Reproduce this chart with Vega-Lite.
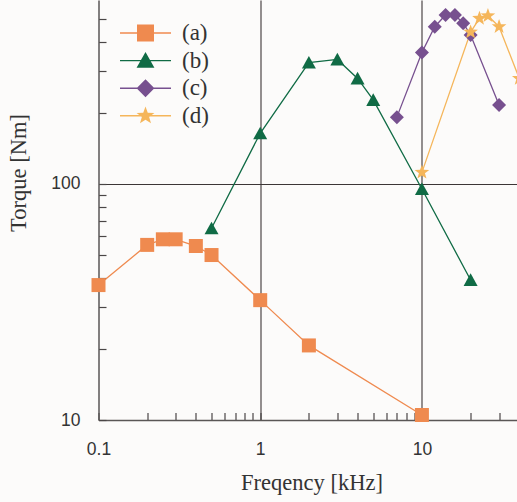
{
  "$schema": "https://vega.github.io/schema/vega-lite/v6.json",
  "width": 419,
  "height": 420,
  "autosize": {"type": "none"},
  "padding": {"left": 98.5, "top": 0, "right": 0, "bottom": 82},
  "background": "#fcfbfa",
  "view": {"stroke": null},
  "config": {
    "axis": {
      "labelFont": "Liberation Sans",
      "labelFontSize": 17.5,
      "labelColor": "#333333",
      "titleFont": "Liberation Serif",
      "titleFontSize": 22.5,
      "titleFontWeight": "normal",
      "titleColor": "#333333",
      "domainColor": "#5a5656",
      "domainWidth": 1.5,
      "tickColor": "#4a4646",
      "tickWidth": 1.2,
      "tickSize": -7.5,
      "gridColor": "#3c3636",
      "gridWidth": 1.1
    }
  },
  "data": {
    "values": [
      {"series": "(a)", "f": 0.1, "t": 37.3},
      {"series": "(a)", "f": 0.2, "t": 55.2},
      {"series": "(a)", "f": 0.25, "t": 58.3},
      {"series": "(a)", "f": 0.3, "t": 58.3},
      {"series": "(a)", "f": 0.4, "t": 54.6},
      {"series": "(a)", "f": 0.5, "t": 50.0},
      {"series": "(a)", "f": 1, "t": 32.2},
      {"series": "(a)", "f": 2, "t": 20.7},
      {"series": "(a)", "f": 10, "t": 10.5},
      {"series": "(b)", "f": 0.5, "t": 64.9},
      {"series": "(b)", "f": 1, "t": 164},
      {"series": "(b)", "f": 2, "t": 327},
      {"series": "(b)", "f": 3, "t": 337},
      {"series": "(b)", "f": 4, "t": 280},
      {"series": "(b)", "f": 5, "t": 227},
      {"series": "(b)", "f": 10, "t": 95.2},
      {"series": "(b)", "f": 20, "t": 39.2},
      {"series": "(c)", "f": 7, "t": 192},
      {"series": "(c)", "f": 10, "t": 361},
      {"series": "(c)", "f": 12, "t": 464},
      {"series": "(c)", "f": 14, "t": 520},
      {"series": "(c)", "f": 16, "t": 520},
      {"series": "(c)", "f": 18, "t": 480},
      {"series": "(c)", "f": 20, "t": 428},
      {"series": "(c)", "f": 30, "t": 216},
      {"series": "(d)", "f": 10, "t": 112},
      {"series": "(d)", "f": 20, "t": 440},
      {"series": "(d)", "f": 22.7, "t": 503},
      {"series": "(d)", "f": 25.6, "t": 516},
      {"series": "(d)", "f": 30, "t": 464},
      {"series": "(d)", "f": 40, "t": 280}
    ]
  },
  "encoding": {
    "x": {
      "field": "f",
      "type": "quantitative",
      "scale": {"type": "log", "domain": [0.1, 39], "nice": false},
      "axis": {
        "title": "Freqency [kHz]",
        "values": [0.1, 0.2, 0.3, 0.4, 0.5, 0.6, 0.7, 0.8, 0.9, 1, 2, 3, 4, 5, 6, 7, 8, 9, 10, 20, 30],
        "labelExpr": "datum.value == 0.1 ? '0.1' : datum.value == 1 ? '1' : datum.value == 10 ? '10' : ''",
        "labelPadding": 37,
        "labelBaseline": "middle",
        "labelFlush": false,
        "labelOverlap": false,
        "grid": true,
        "gridOpacity": {"condition": {"test": "datum.value == 1 || datum.value == 10", "value": 1}, "value": 0},
        "titleBaseline": "alphabetic",
        "titleX": 213,
        "titleY": 69
      }
    },
    "y": {
      "field": "t",
      "type": "quantitative",
      "scale": {"type": "log", "domain": [10, 602], "nice": false},
      "axis": {
        "title": "Torque [Nm]",
        "values": [10, 20, 30, 40, 50, 60, 70, 80, 90, 100, 200, 300, 400, 500],
        "labelExpr": "datum.value == 10 ? '10' : datum.value == 100 ? '100' : ''",
        "labelPadding": 26,
        "labelFlush": false,
        "labelOverlap": false,
        "grid": true,
        "gridOpacity": {"condition": {"test": "datum.value == 100", "value": 1}, "value": 0},
        "titleAngle": -90,
        "titleAlign": "center",
        "titleBaseline": "alphabetic",
        "titleX": -73,
        "titleY": 172.5
      }
    },
    "color": {
      "field": "series",
      "type": "nominal",
      "scale": {"domain": ["(a)", "(b)", "(c)", "(d)"], "range": ["#ef8a4f", "#106b45", "#77508f", "#f5b65b"]},
      "legend": {
        "title": null,
        "orient": "none",
        "legendX": 35.5,
        "legendY": 21.5,
        "padding": 0,
        "labelFont": "Liberation Serif",
        "labelFontSize": 23,
        "labelColor": "#333333",
        "labelOffset": 25,
        "rowPadding": 3.6,
        "symbolSize": 289,
        "symbolStrokeWidth": 0,
        "encoding": {
          "symbols": {
            "shape": {"value": {"expr": "datum.value === '(a)' ? 'M-3,-0.08H3V0.08H-3Z M-1,-1H1V1H-1Z' : datum.value === '(b)' ? 'M-3,-0.08H3V0.08H-3Z M0,-1L1.05,0.85L-1.05,0.85Z' : datum.value === '(c)' ? 'M-3,-0.08H3V0.08H-3Z M0,-1.05L1.05,0L0,1.05L-1.05,0Z' : 'M-3,-0.08H3V0.08H-3Z M0,-1.1L0.265,-0.364L1.046,-0.34L0.428,0.139L0.647,0.89L0,0.45L-0.647,0.89L-0.428,0.139L-1.046,-0.34L-0.265,-0.364Z'"}},
            "fill": {"value": {"expr": "scale('color', datum.value)"}},
            "strokeWidth": {"value": 0},
            "opacity": {"value": 1}
          }
        }
      }
    }
  },
  "layer": [
    {
      "mark": {"type": "line", "strokeWidth": 1.3},
      "encoding": {"detail": {"field": "series"}}
    },
    {
      "transform": [{"filter": "datum.series === '(a)'"}],
      "mark": {"type": "point", "filled": true, "opacity": 1, "size": 196, "strokeWidth": 0, "shape": "M-1,-1H1V1H-1Z"}
    },
    {
      "transform": [{"filter": "datum.series === '(b)'"}],
      "mark": {"type": "point", "filled": true, "opacity": 1, "size": 196, "strokeWidth": 0, "shape": "M0,-0.95L1,0.85L-1,0.85Z"}
    },
    {
      "transform": [{"filter": "datum.series === '(c)'"}],
      "mark": {"type": "point", "filled": true, "opacity": 1, "size": 196, "strokeWidth": 0, "shape": "M0,-1L1,0L0,1L-1,0Z"}
    },
    {
      "transform": [{"filter": "datum.series === '(d)'"}],
      "mark": {"type": "point", "filled": true, "opacity": 1, "size": 196, "strokeWidth": 0, "shape": "M0,-1.1L0.265,-0.364L1.046,-0.34L0.428,0.139L0.647,0.89L0,0.45L-0.647,0.89L-0.428,0.139L-1.046,-0.34L-0.265,-0.364Z"}
    }
  ]
}
